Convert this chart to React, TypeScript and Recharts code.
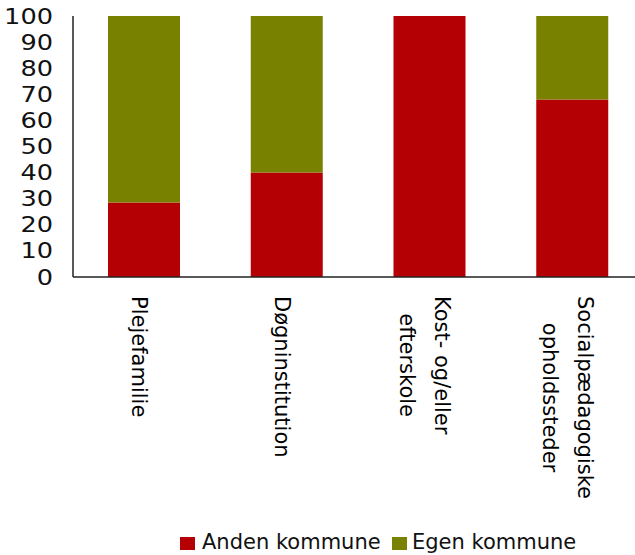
import React from 'react';
import { BarChart, Bar, XAxis, YAxis, Legend } from 'recharts';

const categories = ['Plejefamilie', 'Døgninstitution', 'Kost- og/eller\nefterskole', 'Socialpædagogiske\nopholdssteder'];
const andenKommune = [28.5, 40, 100, 68];
const egenKommune = [71.5, 60, 0, 32];
const yTicks = [0, 10, 20, 30, 40, 50, 60, 70, 80, 90, 100];

const RED = '#B40004';
const GREEN = '#788200';
const FONT = '"DejaVu Sans", Verdana, sans-serif';

const data = categories.map((c, i) => ({ name: c, anden: andenKommune[i], egen: egenKommune[i] }));

let ctx: CanvasRenderingContext2D | null = null;
function measure(t: string): number {
  if (!ctx) {
    const cv = document.createElement('canvas');
    ctx = cv.getContext('2d');
  }
  if (!ctx) return t.length * 11;
  ctx.font = `21px ${FONT}`;
  return ctx.measureText(t).width;
}

const XTick = (props: any) => {
  const { x, payload } = props;
  const lines: string[] = String(payload.value).split('\n');
  const maxW = Math.max(...lines.map(measure));
  const startY = 296;
  const mid = maxW / 2;
  const n = lines.length;
  const spacing = 35;
  const base = 12 - ((n - 1) * spacing) / 2;
  return (
    <g transform={`translate(${x},${startY}) rotate(90)`}>
      {lines.map((l, i) => (
        <text key={i} x={mid} y={base + i * spacing} textAnchor="middle" fontSize={21} fontFamily={FONT} fill="#000">
          {l}
        </text>
      ))}
    </g>
  );
};

const YTick = (props: any) => {
  const { x, y, payload } = props;
  return (
    <g transform={`translate(${x},${y}) scale(1.22,1)`}>
      <text x={0} y={0} dy="0.36em" textAnchor="end" fontSize={21} fontFamily={FONT} fill="#111">
        {payload.value}
      </text>
    </g>
  );
};

const LegendContent = () => (
  <div style={{ position: 'relative', height: 24, fontFamily: FONT, fontSize: 21, color: '#111' }}>
    <div style={{ position: 'absolute', left: 180, top: 6, width: 15, height: 13, background: RED }} />
    <div style={{ position: 'absolute', left: 202, top: -1, whiteSpace: 'nowrap', lineHeight: '24px' }}>Anden kommune</div>
    <div style={{ position: 'absolute', left: 392, top: 6, width: 15, height: 13, background: GREEN }} />
    <div style={{ position: 'absolute', left: 412, top: -1, whiteSpace: 'nowrap', lineHeight: '24px' }}>Egen kommune</div>
  </div>
);

export default function App() {
  return (
    <div style={{ position: 'absolute', left: 0, top: 0, width: 635, height: 555, overflow: 'hidden', background: '#fff' }}>
      <BarChart width={644} height={555} data={data} margin={{ top: 16, right: 0, bottom: 0, left: 0 }} barSize={72}>
        <YAxis
          width={73}
          domain={[0, 100]}
          ticks={yTicks}
          interval={0}
          tickLine={false}
          tickSize={0}
          tickMargin={20}
          axisLine={{ stroke: '#222', strokeWidth: 1.5 }}
          tick={<YTick />}
        />
        <XAxis
          dataKey="name"
          height={278}
          interval={0}
          tickLine={false}
          axisLine={{ stroke: '#222', strokeWidth: 1.5 }}
          tick={<XTick />}
        />
        <Legend
          layout="horizontal"
          verticalAlign="middle"
          align="center"
          wrapperStyle={{ position: 'absolute', top: 531, left: 0, width: 635 }}
          content={<LegendContent />}
        />
        <Bar dataKey="anden" name="Anden kommune" stackId="a" fill={RED} isAnimationActive={false} />
        <Bar dataKey="egen" name="Egen kommune" stackId="a" fill={GREEN} isAnimationActive={false} />
      </BarChart>
    </div>
  );
}
